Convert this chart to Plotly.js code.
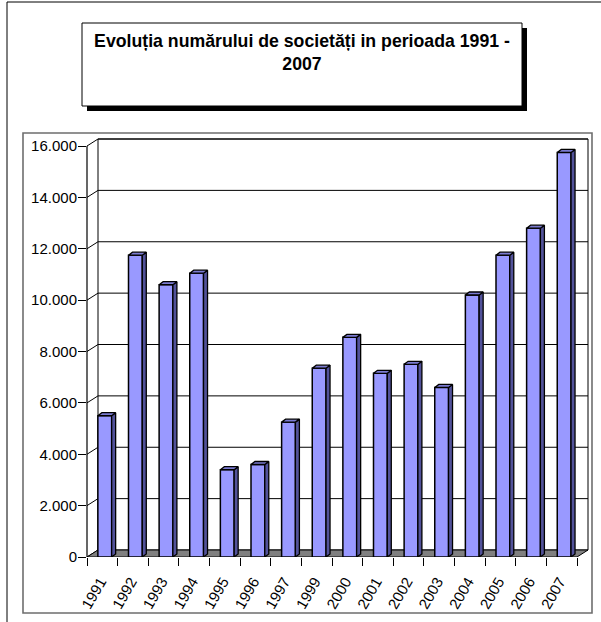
<!DOCTYPE html>
<html>
<head>
<meta charset="utf-8">
<script src="https://cdn.plot.ly/plotly-3.0.1.min.js"></script>
<style>html,body{margin:0;padding:0;background:#fff;}#chart{width:601px;height:622px;}</style>
</head>
<body>
<div id="chart"></div>
<script>
// ---- data ----
const years = ['1991','1992','1993','1994','1995','1996','1997','1999','2000','2001','2002','2003','2004','2005','2006','2007'];
const values = [5500, 11750, 10600, 11050, 3400, 3600, 5250, 7350, 8550, 7150, 7500, 6600, 10200, 11750, 12800, 15750];
const yTicks = [0, 2000, 4000, 6000, 8000, 10000, 12000, 14000, 16000];
const yTickLabels = ['0', '2.000', '4.000', '6.000', '8.000', '10.000', '12.000', '14.000', '16.000'];
const titleText = 'Evoluția numărului de societăți in perioada 1991 -<br>2007';

// ---- geometry (style) ----
const W = 601, H = 622;
const mL = 87, mR = 11, mT = 137, mB = 65;
const pxPerCat = 30.625;
const plotW = W - mL - mR, plotH = H - mT - mB;
const yMaxFront = 16000;
const pxPerVal = 411 / yMaxFront;
const xr0 = -0.5, xr1 = -0.5 + plotW / pxPerCat;
const yr1 = plotH / pxPerVal;
const wallDx = 11 / pxPerCat, wallDy = 7 / pxPerVal;   // depth of the 3D box
const barDx = 4 / pxPerCat, barDy = 3 / pxPerVal;      // depth of each bar
const barW = 0.45, barShift = 0.08;
const nCat = years.length;
const px = x => (x - mL) / plotW;
const py = y => (H - mB - y) / plotH;

const sideX = [], sideY = [], topX = [], topY = [];
values.forEach((v, i) => {
  const xl = i + barShift - barW / 2, xr = i + barShift + barW / 2;
  sideX.push(xr, xr + barDx, xr + barDx, xr, xr, null);
  sideY.push(0, barDy, v + barDy, v, 0, null);
  topX.push(xl, xl + barDx, xr + barDx, xr, xl, null);
  topY.push(v, v + barDy, v + barDy, v, v, null);
});

const shapes = [];
// outer frame and plot frame
shapes.push({type:'rect', xref:'paper', yref:'paper', x0:px(7), x1:px(610), y0:py(2), y1:py(630),
  line:{color:'#000', width:1}, fillcolor:'rgba(0,0,0,0)', layer:'below'});
shapes.push({type:'rect', xref:'paper', yref:'paper', x0:px(23), x1:px(592), y0:py(133), y1:py(613),
  line:{color:'#6e6e6e', width:1.6}, fillcolor:'rgba(0,0,0,0)', layer:'below'});
// title box with shadow
shapes.push({type:'rect', xref:'paper', yref:'paper', x0:px(87), x1:px(527), y0:py(28), y1:py(111),
  line:{width:0}, fillcolor:'#000', layer:'below'});
shapes.push({type:'rect', xref:'paper', yref:'paper', x0:px(82), x1:px(522), y0:py(23), y1:py(106),
  line:{color:'#000', width:1}, fillcolor:'#fff', layer:'below'});
// back wall
const wl = xr0 + wallDx, wr = nCat - 0.5 + wallDx;
shapes.push({type:'rect', xref:'x2', yref:'y', x0:wl, x1:wr, y0:wallDy, y1:yMaxFront + wallDy,
  line:{color:'#000', width:1}, fillcolor:'#fff', layer:'below'});
// gridlines and side-wall connectors
yTicks.forEach(t => {
  if (t > 0) {
    shapes.push({type:'line', xref:'x2', yref:'y', x0:wl, x1:wr, y0:t + wallDy, y1:t + wallDy,
      line:{color:'#000', width:1}, layer:'below'});
  }
  shapes.push({type:'line', xref:'x2', yref:'y', x0:xr0, x1:wl, y0:t, y1:t + wallDy,
    line:{color:'#000', width:1}, layer:'below'});
});
// floor
shapes.push({type:'path', xref:'x2', yref:'y',
  path:`M${xr0},0 L${nCat - 0.5},0 L${wr},${wallDy} L${wl},${wallDy} Z`,
  line:{color:'#000', width:1}, fillcolor:'#808080', layer:'below'});
// front value axis line
shapes.push({type:'line', xref:'paper', yref:'paper', x0:0, x1:0, y0:0, y1:yMaxFront / yr1,
  line:{color:'#000', width:1.2}});

const traces = [
  {type:'bar', x:years, y:values, width:barW, offset:-barW / 2 + barShift, xaxis:'x', yaxis:'y',
   marker:{color:'#9999ff', line:{color:'#000', width:1.5}}, hoverinfo:'x+y'},
  {type:'scatter', x:sideX, y:sideY, xaxis:'x2', yaxis:'y', mode:'lines', fill:'toself',
   fillcolor:'#52529a', line:{color:'#000', width:1.3}, hoverinfo:'skip'},
  {type:'scatter', x:topX, y:topY, xaxis:'x2', yaxis:'y', mode:'lines', fill:'toself',
   fillcolor:'#7a7ad0', line:{color:'#000', width:1.3}, hoverinfo:'skip'}
];

const font = 'Arial, "Liberation Sans", sans-serif';
const layout = {
  width: W, height: H,
  margin: {l:mL, r:mR, t:mT, b:mB, pad:0},
  paper_bgcolor:'#fff', plot_bgcolor:'rgba(0,0,0,0)',
  showlegend:false,
  font:{family:font, color:'#000', size:14},
  title:{text:'<b>' + titleText + '</b>', x:302 / W, xanchor:'center', y:1 - 47 / H, yanchor:'top',
    yref:'container', xref:'container', font:{family:font, size:17.7, color:'#000'}},
  xaxis:{type:'category', range:[xr0, xr1], tickson:'boundaries', ticks:'outside', ticklen:8,
    tickcolor:'#000', tickwidth:1, showgrid:false, zeroline:false, showline:false,
    tickangle:-60, ticklabelstandoff:12, ticklabelshift:-2, tickfont:{family:font, size:15}, fixedrange:true},
  xaxis2:{overlaying:'x', range:[xr0, xr1], visible:false, fixedrange:true},
  yaxis:{range:[0, yr1], tickmode:'array', tickvals:yTicks, ticktext:yTickLabels, ticks:'outside',
    ticklen:8, tickcolor:'#000', showgrid:false, zeroline:false, showline:false,
    ticklabelstandoff:-2, tickfont:{family:font, size:15}, fixedrange:true},
  shapes: shapes,
  bargap:0
};

Plotly.newPlot('chart', traces, layout, {displayModeBar:false, staticPlot:true});
</script>
</body>
</html>
